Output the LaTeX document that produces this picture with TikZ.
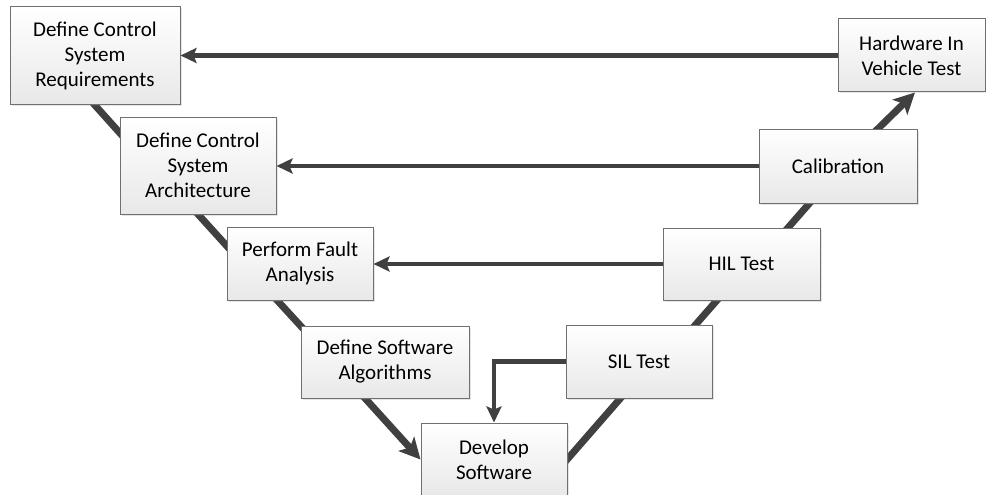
\documentclass[tikz,border=0pt]{standalone}
\usepackage{fontspec}
\setmainfont{Carlito}
\usetikzlibrary{arrows.meta,calc,shadows}
\pgfdeclarelayer{background}
\pgfsetlayers{background,main}
\definecolor{lineC}{HTML}{404040}
\definecolor{boxB}{HTML}{707070}
\definecolor{boxBot}{HTML}{E8E8E8}
\begin{document}
\begin{tikzpicture}[x=1pt,y=-1pt,
  box/.style={draw=boxB, line width=1pt, top color=white, bottom color=boxBot,
    align=center, inner sep=0pt, font=\fontsize{21}{25}\selectfont, text=black,
    drop shadow={shadow xshift=1.5pt,shadow yshift=-1.5pt,opacity=0.2}},
  vline/.style={draw=lineC, line width=7pt},
  varrow/.style={vline, -{Stealth[length=21pt,width=21pt,inset=5pt]}},
  hline/.style={draw=lineC, line width=4.5pt, -{Stealth[length=16pt,width=15pt,inset=3pt]}}]
\useasboundingbox (0,0) rectangle (986,495);

\node[box, minimum width=170pt, minimum height=98pt] (r1) at (95,56) {Define Control\\System\\Requirements};
\node[box, minimum width=156pt, minimum height=97pt] (r2) at (198,165.5) {Define Control\\System\\Architecture};
\node[box, minimum width=146pt, minimum height=73pt] (r3) at (300,263.5) {Perform Fault\\Analysis};
\node[box, minimum width=168pt, minimum height=72pt] (r4) at (385,362) {Define Software\\Algorithms};
\node[box, minimum width=146pt, minimum height=73pt] (r5) at (494,459.5) {Develop\\Software};
\node[box, minimum width=146pt, minimum height=73pt] (sil) at (639,361.5) {SIL Test};
\node[box, minimum width=157pt, minimum height=72pt] (hil) at (741.5,264) {HIL Test};
\node[box, minimum width=158pt, minimum height=74pt] (cal) at (838,166) {Calibration};
\node[box, minimum width=147pt, minimum height=73pt] (hivt) at (911.5,55.5) {Hardware In\\Vehicle Test};

\begin{pgfonlayer}{background}
\fill[white] (0,0) rectangle (986,495);
\draw[vline] ($(r1.south)+(-7,-8)$) -- ($(r2.north west)+(8,25)$);
\draw[vline] ($(r2.south)+(-7,-8)$) -- ($(r3.north west)+(8,28)$);
\draw[vline] ($(r3.south)+(-30,-8)$) -- ($(r4.north west)+(8,9)$);
\draw[varrow] ($(r4.south)+(-27,-8)$) -- (r5.west);
\draw[vline] ($(r5.east)+(-10,11)$) -- ($(sil.south)+(-10,-10)$);
\draw[vline] ($(sil.north)+(48,10)$) -- ($(hil.south)+(-16,-10)$);
\draw[vline] ($(hil.north)+(38,10)$) -- ($(cal.south)+(-20,-10)$);
\draw[varrow] ($(cal.north)+(31,9)$) -- ($(hivt.south)+(3.5,0)$);
\end{pgfonlayer}

\draw[hline] (hivt.west) -- (hivt.west -| r1.east);
\draw[hline] (cal.west) -- (cal.west -| r2.east);
\draw[hline] (hil.west) -- (hil.west -| r3.east);
\draw[hline] (sil.west) -| (r5.north);
\end{tikzpicture}
\end{document}
